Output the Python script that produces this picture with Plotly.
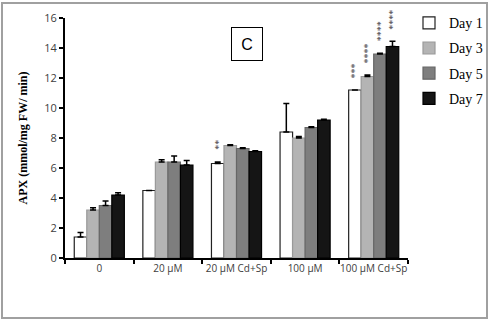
import plotly.graph_objects as go

categories = ["0", "20 µM", "20 µM Cd+Sp", "100 µM", "100 µM Cd+Sp"]
series_names = ["Day 1", "Day 3", "Day 5", "Day 7"]
day1 = [1.4, 4.5, 6.3, 8.4, 11.2]
day3 = [3.2, 6.4, 7.5, 8.0, 12.1]
day5 = [3.5, 6.4, 7.3, 8.7, 13.6]
day7 = [4.2, 6.2, 7.1, 9.2, 14.1]
err1 = [0.3, 0.0, 0.1, 1.9, 0.0]
err3 = [0.15, 0.15, 0.05, 0.1, 0.1]
err5 = [0.3, 0.4, 0.05, 0.05, 0.05]
err7 = [0.15, 0.3, 0.05, 0.05, 0.35]
# significance marks: (category, series index, text)
stars = [("20 µM Cd+Sp", 0, "**"), ("100 µM Cd+Sp", 0, "***"),
         ("100 µM Cd+Sp", 1, "****"), ("100 µM Cd+Sp", 2, "****"),
         ("100 µM Cd+Sp", 3, "****")]

values = [day1, day3, day5, day7]
errs = [err1, err3, err5, err7]
fills = ["#ffffff", "#b4b4b4", "#7e7e7e", "#151515"]
lines = ["#222222", "#9a9a9a", "#666666", "#000000"]

fig = go.Figure()
for name, v, e, fc, lc in zip(series_names, values, errs, fills, lines):
    fig.add_trace(go.Bar(
        x=categories, y=v, name=name, legendgroup=name,
        marker=dict(color=fc, line=dict(color=lc, width=1.2)),
        error_y=dict(type="data", array=e, arrayminus=[0] * len(e), symmetric=False,
                     color="#000000", thickness=1.5, width=3),
    ))

bar_px = 12.5
for cat, si, txt in stars:
    ci = categories.index(cat)
    top = values[si][ci] + errs[si][ci]
    fig.add_annotation(x=cat, y=top, text=txt, showarrow=False, textangle=-90,
                       xshift=(si - 1.5) * bar_px, yanchor="bottom", yshift=10,
                       font=dict(family="Liberation Serif", size=10, color="#444444"))

fig.add_annotation(xref="paper", yref="paper", x=(247 - 65) / 343, y=(258 - 27) / 240,
                   text="C", showarrow=False, font=dict(family="Liberation Sans", size=16, color="#000"),
                   bordercolor="#000", borderwidth=1, borderpad=6, bgcolor="white", width=18, height=20)

fig.add_shape(type="rect", xref="paper", yref="paper",
              x0=(2 - 65) / 343, x1=(487 - 65) / 343, y0=(258 - 318) / 240, y1=(258 - 3) / 240,
              line=dict(color="#a0a0a0", width=2))

fig.update_layout(
    width=491, height=323,
    margin=dict(l=65, r=83, t=18, b=65, autoexpand=False),
    plot_bgcolor="white", paper_bgcolor="white",
    barmode="group", bargap=0.27, bargroupgap=0.0,
    showlegend=True,
    legend=dict(x=(409 - 65) / 343, y=1.045, xanchor="left", yanchor="top",
                font=dict(family="Liberation Serif", size=14, color="#000"),
                itemwidth=30,
                traceorder="grouped", tracegroupgap=4, bgcolor="rgba(0,0,0,0)"),
    xaxis=dict(showline=True, linecolor="#000", linewidth=2, ticks="outside",
               tickson="boundaries", ticklen=4, tickwidth=2, tickcolor="#000",
               tickangle=0, automargin=False,
               tickfont=dict(family="Open Sans", size=10, color="#404040"),
               showgrid=False),
    yaxis=dict(range=[0, 16], dtick=2, showline=True, linecolor="#000", linewidth=2,
               ticks="outside", ticklen=4, tickwidth=2, tickcolor="#000",
               automargin=False,
               tickfont=dict(family="Open Sans", size=11, color="#404040"),
               showgrid=False, zeroline=False,
               title=dict(text="<b>APX (mmol/mg FW/ min)</b>", standoff=14,
                          font=dict(family="Liberation Serif", size=12, color="#000"))),
)

fig.write_html("out.html", config={"displayModeBar": False},
               post_script="document.body.style.margin='0';")
